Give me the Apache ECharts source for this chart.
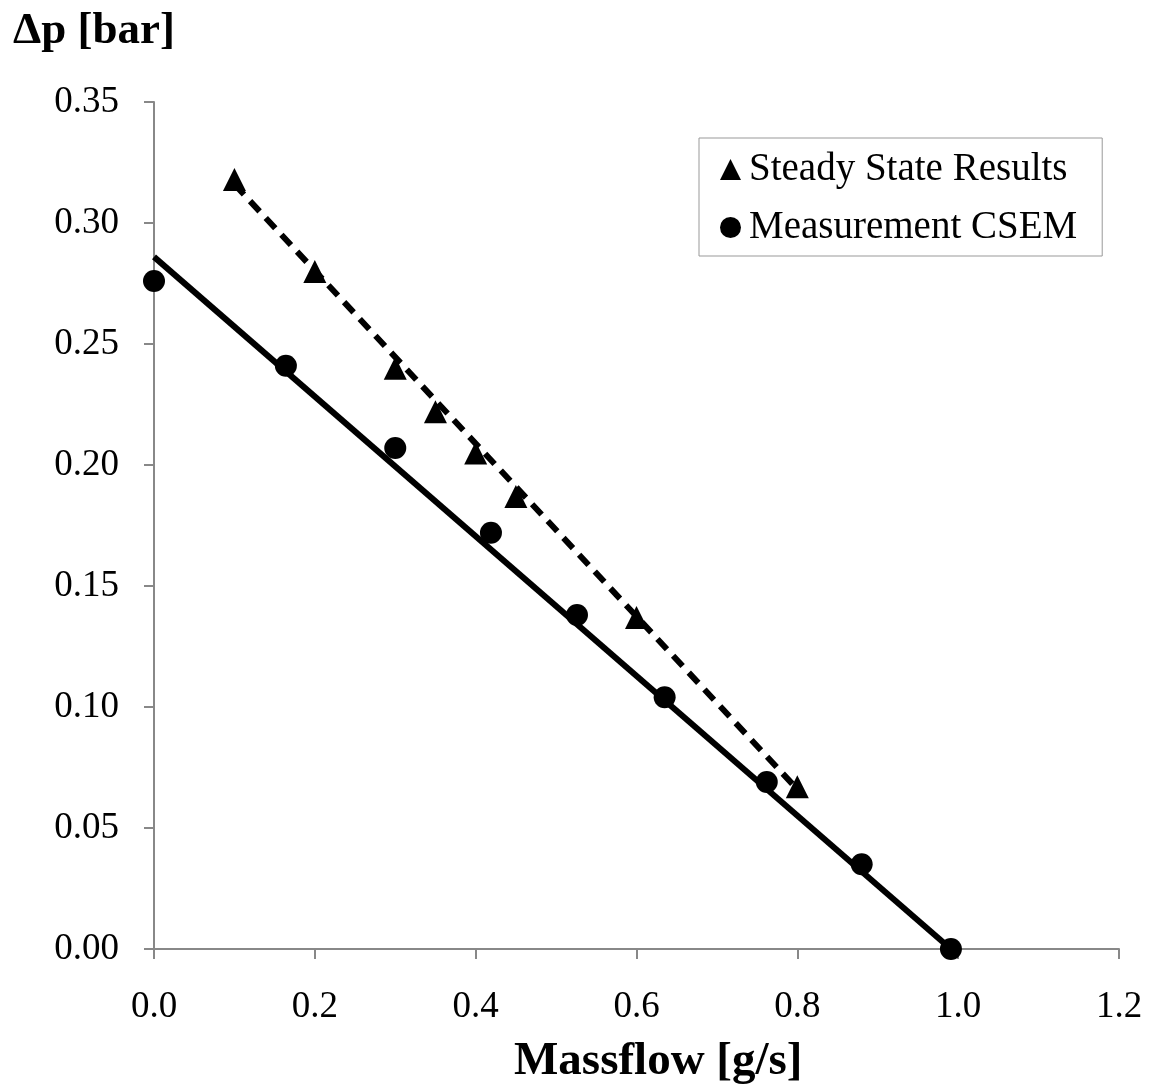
<!DOCTYPE html>
<html><head><meta charset="utf-8">
<script src="https://cdn.jsdelivr.net/npm/echarts@6/dist/echarts.min.js"></script>
<style>html,body{margin:0;padding:0;background:#fff}#c{width:1149px;height:1091px}</style>
</head><body><div id="c"></div>
<script>
// Steady State Results (triangles)
const steadyX = [0.10, 0.20, 0.30, 0.35, 0.40, 0.45, 0.60, 0.80];
const steadyY = [0.318, 0.280, 0.240, 0.222, 0.205, 0.187, 0.137, 0.067];
// Measurement CSEM (circles)
const measX = [0.000, 0.164, 0.300, 0.419, 0.526, 0.635, 0.762, 0.880, 0.991];
const measY = [0.276, 0.241, 0.207, 0.172, 0.138, 0.104, 0.069, 0.035, 0.000];
// Trend lines (endpoints)
const steadyTrendX = [0.10, 0.80];
const steadyTrendY = [0.316, 0.066];
const measTrendX = [0.000, 0.991];
const measTrendY = [0.286, 0.000];
const xTicks = ['0.0','0.2','0.4','0.6','0.8','1.0','1.2'];
const yTicks = ['0.00','0.05','0.10','0.15','0.20','0.25','0.30','0.35'];

const zip = (a, b) => a.map((v, i) => [v, b[i]]);
const font = 'Liberation Serif';
const chart = echarts.init(document.getElementById('c'));
chart.setOption({
  animation: false,
  backgroundColor: '#fff',
  grid: { left: 154, right: 30, top: 102, bottom: 142 },
  title: [
    { text: 'Δp [bar]', left: 13, top: 9, padding: 0, textStyle: { fontFamily: font, fontWeight: 'bold', fontSize: 45, color: '#000' } },
    { text: 'Massflow [g/s]', left: 514, top: 1038, padding: 0, textStyle: { fontFamily: font, fontWeight: 'bold', fontSize: 47, color: '#000' } }
  ],
  legend: {
    data: ['Steady State Results', 'Measurement CSEM'],
    orient: 'vertical', left: 699, top: 138,
    padding: [12, 25, 9, 21], itemGap: 19, itemWidth: 21, itemHeight: 21,
    borderColor: '#999', borderWidth: 1, backgroundColor: '#fff',
    textStyle: { fontFamily: font, fontSize: 39, color: '#000', padding: [0, 0, 0, 3] }
  },
  xAxis: {
    type: 'value', min: 0, max: 1.2, interval: 0.2,
    axisLine: { show: true, lineStyle: { color: '#888', width: 2 } },
    axisTick: { show: true, length: 10, lineStyle: { color: '#888', width: 2 } },
    splitLine: { show: false },
    axisLabel: { margin: 40, fontFamily: font, fontSize: 37, color: '#000',
      formatter: v => xTicks[Math.round(v / 0.2)] }
  },
  yAxis: {
    type: 'value', min: 0, max: 0.35, interval: 0.05,
    axisLine: { show: true, lineStyle: { color: '#888', width: 2 } },
    axisTick: { show: true, length: 10, lineStyle: { color: '#888', width: 2 } },
    splitLine: { show: false },
    axisLabel: { margin: 35, fontFamily: font, fontSize: 37, color: '#000',
      formatter: v => yTicks[Math.round(v / 0.05)] }
  },
  series: [
    { name: 'steadyTrend', type: 'line', data: zip(steadyTrendX, steadyTrendY), symbol: 'none',
      lineStyle: { color: '#000', width: 6, type: [14, 9] }, z: 2 },
    { name: 'measTrend', type: 'line', data: zip(measTrendX, measTrendY), symbol: 'none',
      lineStyle: { color: '#000', width: 6 }, z: 2 },
    { name: 'Steady State Results', type: 'scatter', data: zip(steadyX, steadyY),
      symbol: 'triangle', symbolSize: 23, itemStyle: { color: '#000', opacity: 1 }, z: 3 },
    { name: 'Measurement CSEM', type: 'scatter', data: zip(measX, measY),
      symbol: 'circle', symbolSize: 22, itemStyle: { color: '#000', opacity: 1 }, z: 3 }
  ]
});
</script></body></html>
